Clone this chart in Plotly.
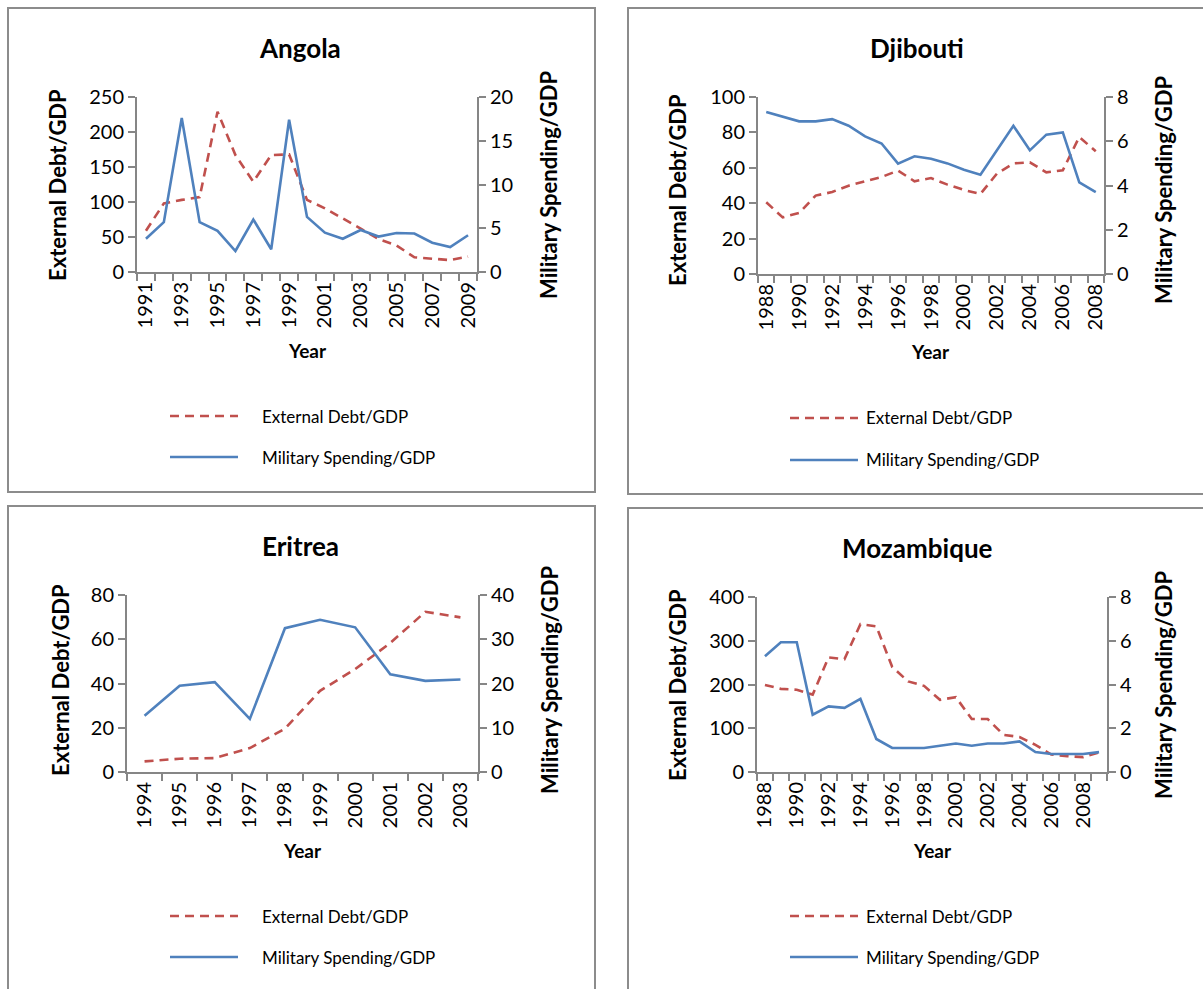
import plotly.graph_objects as go

W, H = 1203, 989
FONT = "Lato, 'Open Sans', sans-serif"
DEBT_COLOR = "#C0504D"
MIL_COLOR = "#4F81BD"
AXIS_COLOR = "#868686"
BOX_COLOR = "#8C8C8C"

# ---- data ----
angola_years = list(range(1991, 2010))
angola_debt = [59, 98, 103, 107, 229, 167, 129, 167, 168, 103, 91, 77, 62, 47, 38, 21, 19, 17, 22]
angola_mil = [3.8, 5.7, 17.6, 5.7, 4.7, 2.4, 6.0, 2.6, 17.4, 6.3, 4.5, 3.8, 4.8, 4.05, 4.45, 4.4, 3.35, 2.85, 4.2]

djibouti_years = list(range(1988, 2009))
djibouti_debt = [40.5, 32, 34.5, 44.3, 46.3, 49.9, 52.4, 54.8, 58.4, 52.4, 54.2, 50.5, 47.5, 45.2,
                 56.7, 62.5, 63.1, 57.4, 58.6, 77.4, 69.3]
djibouti_mil = [7.32, 7.12, 6.9, 6.9, 7.0, 6.7, 6.22, 5.9, 4.99, 5.32, 5.21, 5.0, 4.71, 4.49,
                5.59, 6.7, 5.59, 6.3, 6.4, 4.14, 3.7]

eritrea_years = list(range(1994, 2004))
eritrea_debt = [4.8, 6.0, 6.3, 10.8, 19.6, 36.7, 46.5, 58.3, 72.4, 69.9]
eritrea_mil = [12.7, 19.5, 20.3, 12.0, 32.5, 34.4, 32.7, 22.1, 20.6, 20.9]

mozambique_years = list(range(1988, 2010))
mozambique_debt = [199, 190, 188, 177, 262, 258, 338, 333, 240, 207, 197, 165, 171, 121, 121,
                   85, 80, 62, 40, 36, 34, 45]
mozambique_mil = [5.29, 5.93, 5.93, 2.62, 3.0, 2.93, 3.34, 1.51, 1.1, 1.1, 1.1, 1.2, 1.3, 1.2,
                  1.3, 1.3, 1.4, 0.91, 0.82, 0.82, 0.82, 0.91]

panels = [
    dict(title="Angola", years=angola_years, debt=angola_debt, mil=angola_mil,
         debt_max=250, debt_dtick=50, mil_max=20, mil_dtick=5, step=2,
         box=(8, 8, 595, 492), plot=(137, 97, 477, 272),
         title_xy=(300, 48), ltitle_x=58, rtitle_x=549, ytitle_y=185, year_xy=(307, 350),
         leg=(170, 238, 260, 416, 457)),
    dict(title="Djibouti", years=djibouti_years, debt=djibouti_debt, mil=djibouti_mil,
         debt_max=100, debt_dtick=20, mil_max=8, mil_dtick=2, step=2,
         box=(628, 8, 1215, 494), plot=(758, 97, 1104, 274),
         title_xy=(917, 48), ltitle_x=677, rtitle_x=1163, ytitle_y=190, year_xy=(930, 352),
         leg=(790, 858, 864, 418, 460)),
    dict(title="Eritrea", years=eritrea_years, debt=eritrea_debt, mil=eritrea_mil,
         debt_max=80, debt_dtick=20, mil_max=40, mil_dtick=10, step=1,
         box=(8, 506, 595, 1000), plot=(127, 595, 478, 772),
         title_xy=(300, 546), ltitle_x=60, rtitle_x=549, ytitle_y=680, year_xy=(302, 850),
         leg=(170, 238, 260, 916, 957)),
    dict(title="Mozambique", years=mozambique_years, debt=mozambique_debt, mil=mozambique_mil,
         debt_max=400, debt_dtick=100, mil_max=8, mil_dtick=2, step=2,
         box=(628, 508, 1215, 1000), plot=(757, 597, 1107, 772),
         title_xy=(917, 548), ltitle_x=677, rtitle_x=1163, ytitle_y=685, year_xy=(932, 850),
         leg=(790, 858, 864, 916, 957)),
]


def px(x):
    return x / W


def py(y):
    return 1 - y / H


fig = go.Figure()
layout = dict(
    width=W, height=H, margin=dict(l=0, r=0, t=0, b=0, autoexpand=False),
    paper_bgcolor="white", plot_bgcolor="white", showlegend=False,
    font=dict(family=FONT, color="#000000"),
)
shapes, annotations = [], []

for k, p in enumerate(panels):
    xid = "x" if k == 0 else f"x{k + 1}"
    yl_n, yr_n = 2 * k + 1, 2 * k + 2
    yl = "y" if yl_n == 1 else f"y{yl_n}"
    yr = f"y{yr_n}"
    x0, y0, x1, y1 = p["plot"]
    yrs = p["years"]

    fig.add_trace(go.Scatter(
        x=yrs, y=p["debt"], xaxis=xid, yaxis=yl, mode="lines", name="External Debt/GDP",
        line=dict(color=DEBT_COLOR, width=2.6, dash="9px,6px")))
    fig.add_trace(go.Scatter(
        x=yrs, y=p["mil"], xaxis=xid, yaxis=yr, mode="lines", name="Military Spending/GDP",
        line=dict(color=MIL_COLOR, width=2.6)))

    xkey = "xaxis" if k == 0 else f"xaxis{k + 1}"
    ylkey = "yaxis" if yl_n == 1 else f"yaxis{yl_n}"
    yrkey = f"yaxis{yr_n}"

    layout[xkey] = dict(
        domain=[px(x0), px(x1)], anchor=yl, range=[yrs[0] - 0.5, yrs[-1] + 0.5],
        tickmode="array", tickvals=yrs[::p["step"]], ticktext=[str(v) for v in yrs[::p["step"]]],
        tickangle=-90, ticks="", showgrid=False, zeroline=False, automargin=False,
        showline=True, linecolor=AXIS_COLOR, linewidth=2,
        tickfont=dict(size=20, family=FONT, color="#000"),
        minor=dict(ticks="outside", tick0=yrs[0] - 0.5, dtick=1, ticklen=7,
                   tickcolor=AXIS_COLOR, tickwidth=2, showgrid=False),
        fixedrange=True,
    )
    common = dict(domain=[py(y1), py(y0)], anchor=xid, showgrid=False, zeroline=False,
                  automargin=False, showline=True, linecolor=AXIS_COLOR, linewidth=2,
                  ticks="outside", ticklen=7, tickcolor=AXIS_COLOR, tickwidth=2,
                  tickfont=dict(size=20, family=FONT, color="#000"), fixedrange=True)
    layout[ylkey] = dict(common, side="left", range=[0, p["debt_max"]], dtick=p["debt_dtick"], tick0=0)
    layout[yrkey] = dict(common, side="right", overlaying=yl, range=[0, p["mil_max"]],
                         dtick=p["mil_dtick"], tick0=0)

    # panel frame
    bx0, by0, bx1, by1 = p["box"]
    shapes.append(dict(type="rect", xref="paper", yref="paper",
                       x0=px(bx0), x1=px(bx1), y0=py(by1), y1=py(by0),
                       line=dict(color=BOX_COLOR, width=2), fillcolor="rgba(0,0,0,0)", layer="below"))

    # titles
    tx, ty = p["title_xy"]
    annotations.append(dict(text=f"<b>{p['title']}</b>", x=px(tx), y=py(ty), xref="paper", yref="paper",
                            showarrow=False, font=dict(size=26, family=FONT, color="#000"),
                            xanchor="center", yanchor="middle"))
    annotations.append(dict(text="<b>External Debt/GDP</b>", x=px(p["ltitle_x"]), y=py(p["ytitle_y"]),
                            xref="paper", yref="paper", showarrow=False, textangle=-90,
                            font=dict(size=22, family=FONT, color="#000"),
                            xanchor="center", yanchor="middle"))
    annotations.append(dict(text="<b>Military Spending/GDP</b>", x=px(p["rtitle_x"]), y=py(p["ytitle_y"]),
                            xref="paper", yref="paper", showarrow=False, textangle=-90,
                            font=dict(size=22, family=FONT, color="#000"),
                            xanchor="center", yanchor="middle"))
    yx, yy = p["year_xy"]
    annotations.append(dict(text="<b>Year</b>", x=px(yx), y=py(yy), xref="paper", yref="paper",
                            showarrow=False, font=dict(size=19, family=FONT, color="#000"),
                            xanchor="center", yanchor="middle"))

    # legend
    lx0, lx1, ltx, ly_debt, ly_mil = p["leg"]
    for ly, color, dash, label in [(ly_debt, DEBT_COLOR, "9px,6px", "External Debt/GDP"),
                                   (ly_mil, MIL_COLOR, "solid", "Military Spending/GDP")]:
        shapes.append(dict(type="line", xref="paper", yref="paper",
                           x0=px(lx0), x1=px(lx1), y0=py(ly), y1=py(ly),
                           line=dict(color=color, width=2.6, dash=dash)))
        annotations.append(dict(text=label, x=px(ltx), y=py(ly), xref="paper", yref="paper",
                                showarrow=False, font=dict(size=17, family=FONT, color="#000"),
                                xanchor="left", yanchor="middle"))

layout["shapes"] = shapes
layout["annotations"] = annotations
fig.update_layout(**layout)
fig.write_html("out.html")
